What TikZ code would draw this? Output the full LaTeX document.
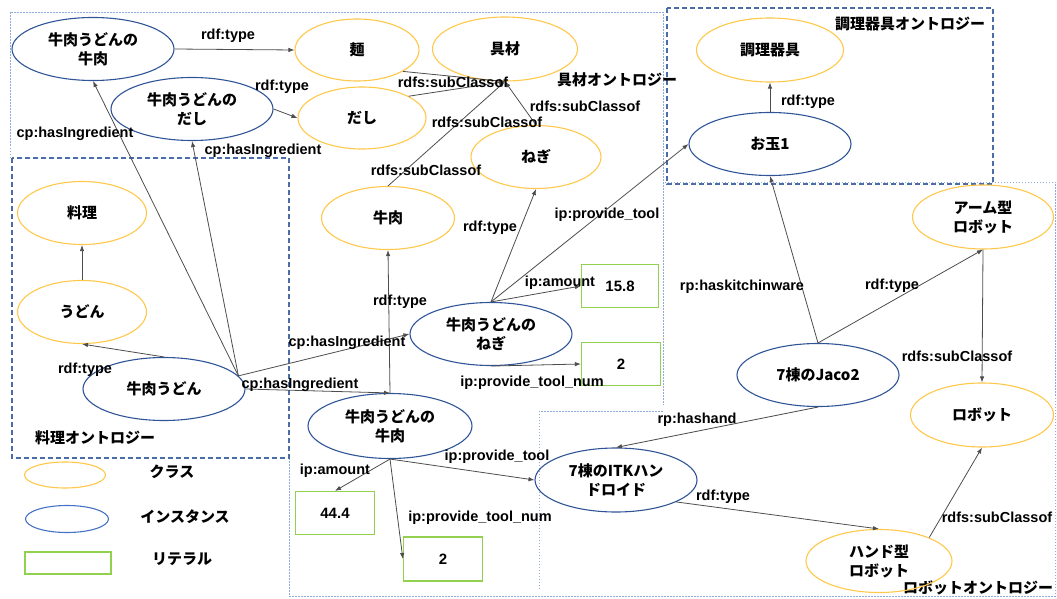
\documentclass[tikz,border=0pt]{standalone}
\usepackage{fontspec}
\setmainfont{Liberation Sans}
\newfontfamily\jpfont{Noto Sans CJK JP}
\usepackage{tikz}
\usetikzlibrary{shapes.geometric, arrows.meta}
\definecolor{clsorange}{HTML}{FFC84A}
\definecolor{instblue}{HTML}{2F5597}
\definecolor{legblue}{HTML}{4472C4}
\definecolor{litgreen}{HTML}{92D050}
\definecolor{boxblue}{HTML}{4A6DAA}
\definecolor{dotblue}{HTML}{8FAADC}
\definecolor{edgegray}{HTML}{4D4D4D}
\tikzstyle{cls} = [ellipse, draw=clsorange, line width=1.1pt, minimum width=130pt, minimum height=63pt, inner sep=1pt, align=center, font=\jpfont\bfseries\fontsize{15}{19}\selectfont]
\tikzstyle{inst} = [cls, draw=instblue, minimum width=162pt]
\tikzstyle{lit} = [rectangle, draw=litgreen, line width=1.2pt, minimum width=79pt, minimum height=43pt, font=\bfseries\fontsize{15}{19}\selectfont]
\tikzstyle{lbl} = [inner sep=0pt, font=\bfseries\fontsize{14.5}{17}\selectfont]
\tikzstyle{onto} = [inner sep=0pt, font=\jpfont\bfseries\fontsize{15}{18}\selectfont]
\tikzstyle{arrow} = [draw=edgegray, line width=0.8pt, -{Latex[length=6pt,width=4.5pt]}]
\tikzstyle{ontobox} = [draw=boxblue, line width=1.2pt, dash pattern=on 5pt off 3pt]
\tikzstyle{areabox} = [draw=dotblue, line width=0.9pt, dash pattern=on 1.5pt off 1.5pt]

\begin{document}
\begin{tikzpicture}[x=1pt, y=-1pt]
\useasboundingbox (0,0) rectangle (1057,599);

% Ontology areas
\draw [areabox] (10,158) -- (10,12) -- (663,12) -- (663,405);
\draw [areabox] (289,458) -- (289,596) -- (1055,596) -- (1055,182) -- (665,182);
\draw [areabox] (539,589) -- (539,411) -- (663,411);
\draw [ontobox] (12,158) rectangle (289,458);
\draw [ontobox] (667,8) rectangle (993,184);
\node (guzaiT) [onto] at (617,80) {具材オントロジー};
\node (choriT) [onto] at (910,24) {調理器具オントロジー};
\node (ryoriT) [onto] at (95,438) {料理オントロジー};
\node (robotT) [onto] at (978,588) {ロボットオントロジー};

% Instances
\node (beefU) [inst] at (93,49) {牛肉うどんの\\牛肉};
\node (dashiI) [inst] at (192,109) {牛肉うどんの\\だし};
\node (udonI) [inst] at (164,389) {牛肉うどん};
\node (negiI) [inst] at (491,334) {牛肉うどんの\\ねぎ};
\node (beefI) [inst, minimum width=164pt, minimum height=65pt] at (390,426) {牛肉うどんの\\牛肉};
\node (otama) [inst] at (770,144) {お玉1};
\node (jaco) [inst] at (818,375) {7棟のJaco2};
\node (itk) [inst, minimum height=64pt] at (616,480) {7棟のITKハン\\ドロイド};

% Classes
\node (men) [cls, minimum width=124pt, minimum height=62pt] at (357,50) {麺};
\node (guzai) [cls, minimum width=145pt, minimum height=64pt] at (505,49) {具材};
\node (dashiC) [cls, minimum width=128pt, minimum height=62pt] at (362,118) {だし};
\node (negiC) [cls] at (536,157) {ねぎ};
\node (beefC) [cls, minimum width=133pt] at (388,218) {牛肉};
\node (ryori) [cls, minimum width=129pt] at (82,213) {料理};
\node (udonC) [cls, minimum width=129pt] at (82,312) {うどん};
\node (chori) [cls, minimum width=147pt, minimum height=64pt] at (770,50) {調理器具};
\node (arm) [cls, minimum width=141pt, minimum height=64pt] at (983,217) {アーム型\\ロボット};
\node (robot) [cls, minimum width=143pt, minimum height=64pt] at (982,415) {ロボット};
\node (hand) [cls, minimum width=146pt] at (879,561) {ハンド型\\ロボット};

% Literals
\node (amtN) [lit, minimum width=77pt] at (620,286) {15.8};
\node (numN) [lit] at (621,364) {2};
\node (amtB) [lit] at (335,513) {44.4};
\node (numB) [lit, minimum height=44pt] at (443,559) {2};

% Legend
\node (legcls) [cls, minimum width=81pt, minimum height=26pt] at (65,475) {};
\node (leginst) [inst, draw=legblue, minimum width=83pt, minimum height=27pt] at (67,519) {};
\node (leglit) [lit, minimum width=86pt, minimum height=22pt] at (68,563) {};
\node (legclsT) [onto] at (172,472) {クラス};
\node (leginstT) [onto] at (185,517) {インスタンス};
\node (leglitT) [onto] at (182,559) {リテラル};

% Edges
\draw [arrow] (beefU.east) -- (men.west);
\draw [arrow] (dashiI.east) -- (dashiC.west);
\draw [arrow] (men.-25) -- (guzai.south);
\draw [arrow] (dashiC.25) -- (guzai.south);
\draw [arrow] (beefC.north) -- (guzai.south);
\draw [arrow] (negiC.north) -- (guzai.south);
\draw [arrow] (udonI.10) -- (beefU.south);
\draw [arrow] (udonI.10) -- (dashiI.south);
\draw [arrow] (udonI.10) -- (negiI.west);
\draw [arrow] (udonI.east) -- (beefI.north);
\draw [arrow] (udonI.north) -- (udonC.south);
\draw [arrow] (udonC.north) -- (ryori.south);
\draw [arrow] (beefI.north) -- (beefC.south);
\draw [arrow] (negiI.north) -- (negiC.south);
\draw [arrow] (negiI.north) -- (otama.west);
\draw [arrow] (negiI.north) -- (amtN.west);
\draw [arrow] (negiI.south) -- (numN.west);
\draw [arrow] (beefI.south) -- (amtB.north);
\draw [arrow] (beefI.south) -- (numB.west);
\draw [arrow] (beefI.south) -- (itk.west);
\draw [arrow] (otama.north) -- (chori.south);
\draw [arrow] (jaco.north) -- (otama.south);
\draw [arrow] (jaco.north) -- (arm.south);
\draw [arrow] (jaco.south) -- (itk.north);
\draw [arrow] (arm.south) -- (robot.north);
\draw [arrow] (itk.-20) -- (hand.north);
\draw [arrow] (hand.25) -- (robot.south);

% Edge labels
\node (l1) [lbl] at (228,36) {rdf:type};
\node (l2) [lbl] at (282,87) {rdf:type};
\node (l3) [lbl] at (75,134) {cp:hasIngredient};
\node (l4) [lbl] at (263,151) {cp:hasIngredient};
\node (l5) [lbl] at (453,82) {rdfs:subClassof};
\node (l6) [lbl] at (487,122) {rdfs:subClassof};
\node (l7) [lbl] at (585,106) {rdfs:subClassof};
\node (l8) [lbl] at (426,170) {rdfs:subClassof};
\node (l9) [lbl] at (808,102) {rdf:type};
\node (l10) [lbl] at (490,228) {rdf:type};
\node (l11) [lbl] at (607,215) {ip:provide\_tool};
\node (l12) [lbl] at (560,283) {ip:amount};
\node (l13) [lbl] at (532,383) {ip:provide\_tool\_num};
\node (l14) [lbl] at (400,302) {rdf:type};
\node (l15) [lbl] at (347,343) {cp:hasIngredient};
\node (l16) [lbl] at (300,385) {cp:hasIngredient};
\node (l17) [lbl] at (85,370) {rdf:type};
\node (l18) [lbl] at (742,287) {rp:haskitchinware};
\node (l19) [lbl] at (892,286) {rdf:type};
\node (l20) [lbl] at (957,356) {rdfs:subClassof};
\node (l21) [lbl] at (697,420) {rp:hashand};
\node (l22) [lbl] at (335,471) {ip:amount};
\node (l23) [lbl] at (497,457) {ip:provide\_tool};
\node (l24) [lbl] at (480,518) {ip:provide\_tool\_num};
\node (l25) [lbl] at (723,497) {rdf:type};
\node (l26) [lbl] at (997,517) {rdfs:subClassof};

\end{tikzpicture}
\end{document}
